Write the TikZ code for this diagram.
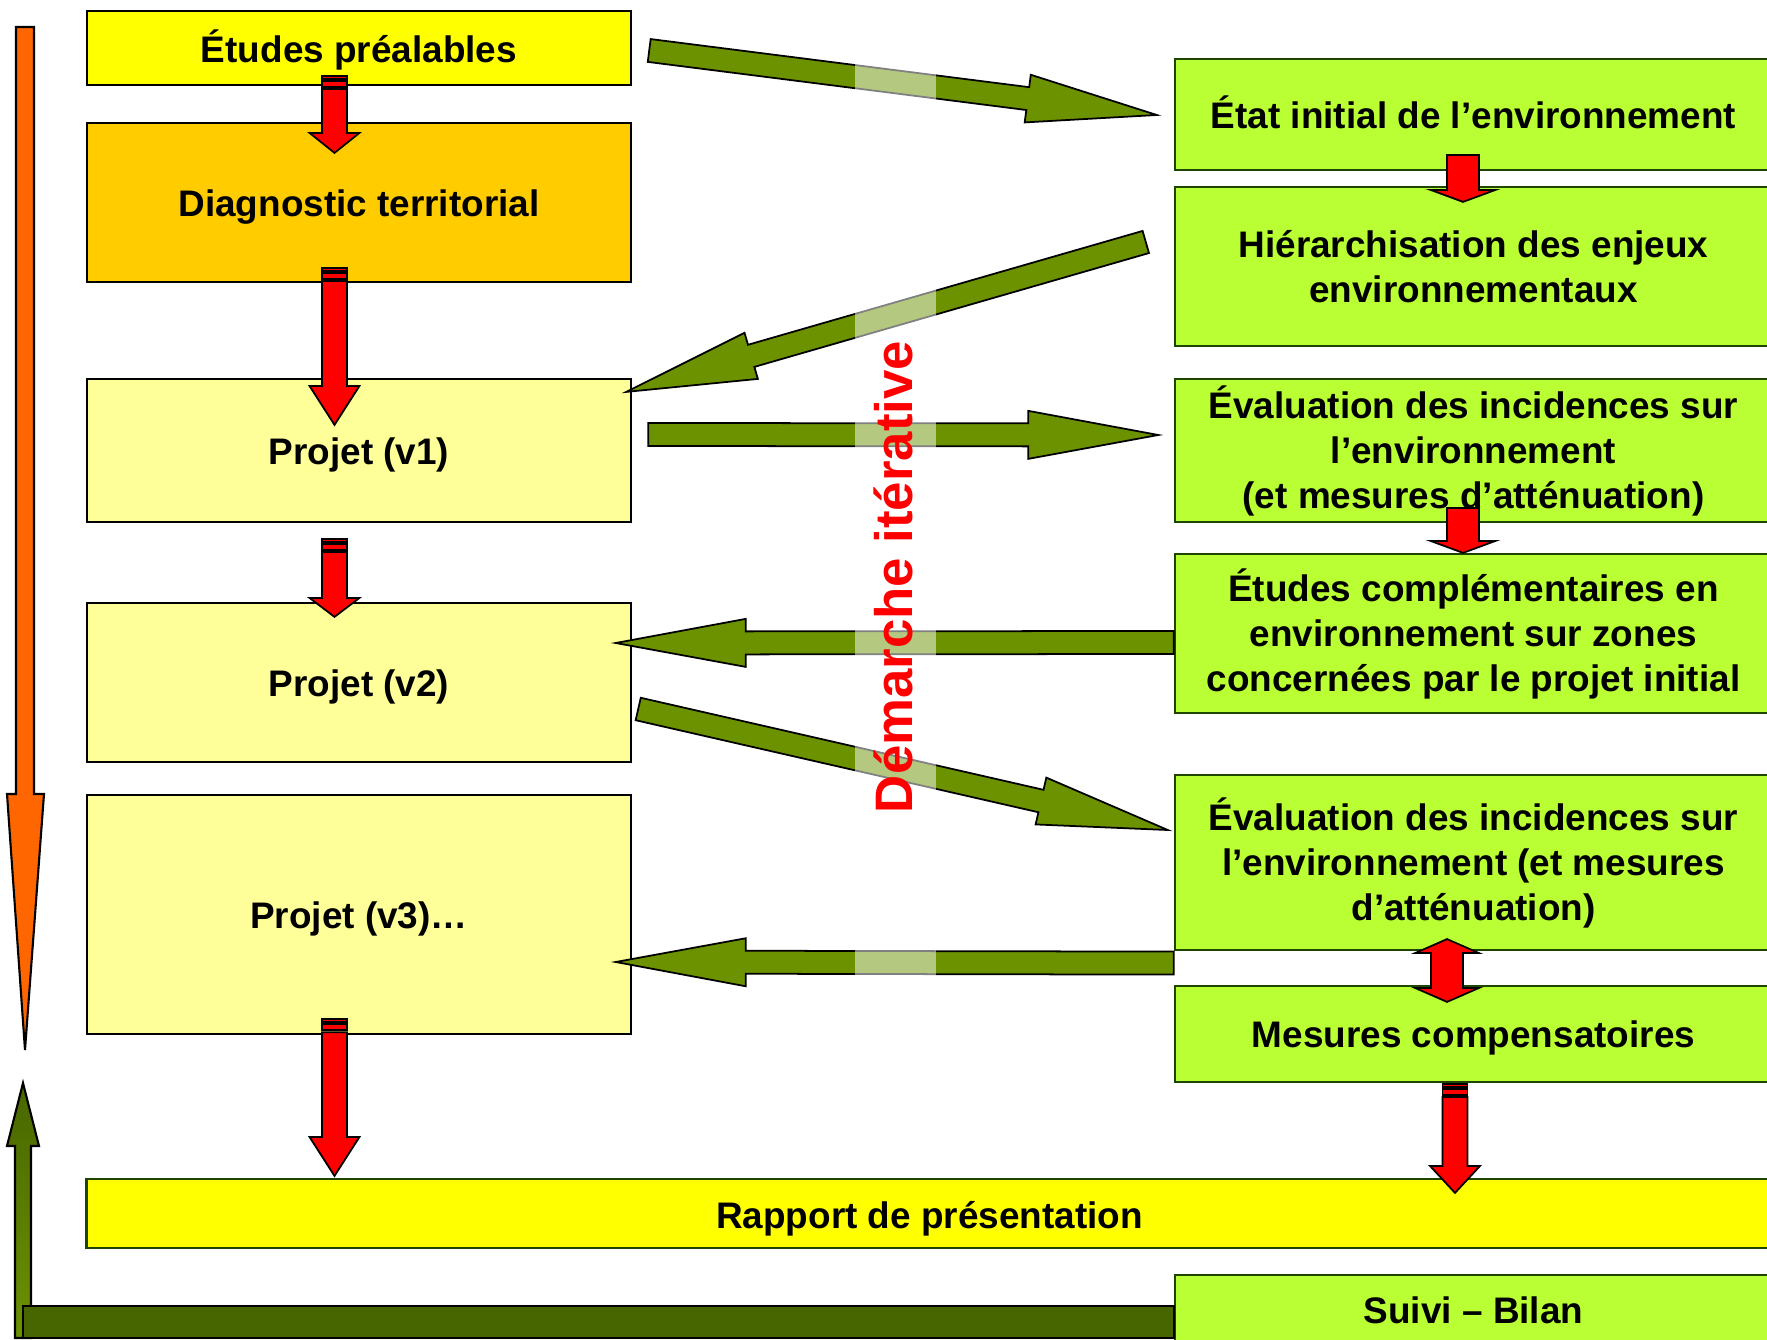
\documentclass[tikz,border=0pt]{standalone}
\usepackage{fontspec}
\setmainfont{Liberation Sans}
\usetikzlibrary{calc}

\definecolor{jaune}{RGB}{255,255,0}
\definecolor{jauneorange}{RGB}{255,204,0}
\definecolor{jaunepale}{RGB}{255,255,153}
\definecolor{vertclair}{RGB}{185,255,51}
\definecolor{vertolive}{RGB}{108,146,0}
\definecolor{vertfonce}{RGB}{72,102,0}
\definecolor{vertbord}{RGB}{30,70,0}
\definecolor{orangevif}{RGB}{255,102,0}

% fleche large verte entre deux points
\newcommand{\flecheverte}[2]{%
	\draw[vertbloc] let \p1=#1, \p2=#2, \n1={atan2(\y2-\y1,\x2-\x1)} in
		($(\p1)+(\n1+90:0.115cm)$) -- ($(\p2)+(\n1+180:1.3cm)+(\n1+90:0.115cm)$)
		-- ($(\p2)+(\n1+180:1.3cm)+(\n1+90:0.24cm)$) -- (\p2)
		-- ($(\p2)+(\n1+180:1.3cm)+(\n1-90:0.24cm)$) -- ($(\p2)+(\n1+180:1.3cm)+(\n1-90:0.115cm)$)
		-- ($(\p1)+(\n1-90:0.115cm)$) -- cycle;}

% fleche rouge verticale avec rayures
\newcommand{\flecherouge}[3]{%
	\draw[rougebloc] let \p1=#1 in ($(\p1)+(-12.5,0)$) rectangle ($(\p1)+(12.5,3)$);
	\draw[rougebloc] let \p1=#1 in ($(\p1)+(-12.5,5)$) rectangle ($(\p1)+(12.5,11)$);
	\draw[rougebloc] let \p1=#1, \p2=#2 in
		($(\p1)+(-12.5,13)$) -- ($(\p2)+(-12.5,-#3)$) -- ($(\p2)+(-25,-#3)$) -- (\p2)
		-- ($(\p2)+(25,-#3)$) -- ($(\p2)+(12.5,-#3)$) -- ($(\p1)+(12.5,13)$) -- cycle;}

% fleche rouge courte et large
\newcommand{\flechecourte}[2]{%
	\draw[rougebloc] let \p1=#1, \p2=#2 in
		($(\p1)+(-16,0)$) -- ($(\p2)+(-16,-12)$) -- ($(\p2)+(-32.5,-12)$) -- (\p2)
		-- ($(\p2)+(32.5,-12)$) -- ($(\p2)+(16,-12)$) -- ($(\p1)+(16,0)$) -- cycle;}

% fleche rouge double
\newcommand{\flechedouble}[2]{%
	\draw[rougebloc] let \p1=#1, \p2=#2 in
		(\p1) -- ($(\p1)+(32,14)$) -- ($(\p1)+(16,14)$) -- ($(\p2)+(16,-14)$) -- ($(\p2)+(32,-14)$)
		-- (\p2) -- ($(\p2)+(-32,-14)$) -- ($(\p2)+(-16,-14)$) -- ($(\p1)+(-16,14)$) -- ($(\p1)+(-32,14)$) -- cycle;}

\begin{document}
\begin{tikzpicture}[x=0.01cm, y=-0.01cm,
	gauche/.style={draw=black, line width=0.6pt, minimum width=5.44cm, inner sep=0pt, text height=10.2pt, text depth=2.2pt, align=center, font=\bfseries\fontsize{10.5}{12.8}\selectfont},
	droite/.style={draw=vertbord, fill=vertclair, line width=0.6pt, minimum width=5.97cm, inner sep=0pt, align=center, font=\bfseries\fontsize{10.5}{12.8}\selectfont},
	vertbloc/.style={draw=black, fill=vertolive, line width=0.5pt, line join=miter},
	rougebloc/.style={draw=black, fill=red, line width=0.5pt, line join=miter}]

	\useasboundingbox (0,0) rectangle (1767,1340);

	\draw[draw=black, fill=orangevif, line width=0.6pt] (16,27) -- (16,794) -- (7,794) -- (25,1050) -- (44,794) -- (34,794) -- (34,27) -- cycle;

	\node[gauche, fill=jaune, minimum height=0.74cm] (etudes) at (359,48) {Études préalables};
	\node[gauche, fill=jauneorange, minimum height=1.59cm] (diag) at (359,202.5) {Diagnostic territorial};
	\node[gauche, fill=jaunepale, minimum height=1.43cm] (v1) at (359,450.5) {Projet (v1)};
	\node[gauche, fill=jaunepale, minimum height=1.59cm] (v2) at (359,682.5) {Projet (v2)};
	\node[gauche, fill=jaunepale, minimum height=2.39cm] (v3) at (359,914.5) {Projet (v3)…};
	\node[gauche, draw=vertbord, fill=jaune, minimum width=16.85cm, minimum height=0.69cm, text height=11pt] (rapport) at (929.5,1213.5) {Rapport de présentation};

	\node[droite, minimum height=1.11cm, text height=8.2pt, text depth=0pt] (etat) at (1473.5,114.5) {État initial de l’environnement};
	\node[droite, minimum height=1.59cm] (hier) at (1473.5,266.5) {Hiérarchisation des enjeux\\environnementaux};
	\node[droite, minimum height=1.43cm] (eval1) at (1473.5,450.5) {Évaluation des incidences sur\\l’environnement\\(et mesures d’atténuation)};
	\node[droite, minimum height=1.59cm] (compl) at (1473.5,633.5) {Études complémentaires en\\environnement sur zones\\concernées par le projet initial};
	\node[droite, minimum height=1.75cm] (eval2) at (1473.5,862.5) {Évaluation des incidences sur\\l’environnement (et mesures\\d’atténuation)};
	\node[droite, minimum height=0.96cm, text height=9.6pt, text depth=2.2pt] (mesures) at (1473.5,1034) {Mesures compensatoires};
	\node[droite, minimum height=0.70cm] (suivi) at (1473.5,1310) {Suivi – Bilan};

	\draw[draw=black, line width=0.6pt, top color=vertfonce, bottom color=vertolive] (15,1338) -- (15,1146) -- (7,1146) -- (23,1083) -- (39,1146) -- (31,1146) -- (31,1338) -- cycle;
	\draw[draw=black, fill=vertfonce, line width=0.6pt] ($(suivi.west)+(0,-4)$) rectangle (23,1338);

	\flecheverte{($(etudes.east)+(17,2.5)$)}{($(etat.west)+(-17,0.5)$)}
	\flecheverte{($(hier.west)+(-28,-24.5)$)}{($(v1.north east)+(-6,14)$)}
	\flecheverte{($(v1.east)+(16,-16)$)}{($(eval1.west)+(-15.5,-15.5)$)}
	\flecheverte{($(compl.west)+(0,9)$)}{($(v2.east)+(-16.5,-39.5)$)}
	\flecheverte{($(v2.east)+(6,26.5)$)}{($(eval2.west)+(-6,-32.5)$)}
	\flecheverte{($(eval2.south west)+(0,12)$)}{($(v3.east)+(-16.5,47.5)$)}

	\fill[white, opacity=0.5] (855,40) rectangle (936,990);

	\flecherouge{($(etudes.south)+(-24.5,-10)$)}{($(diag.north)+(-24.5,31)$)}{20}
	\flecherouge{($(diag.south)+(-24.5,-15)$)}{($(v1.north)+(-24.5,47)$)}{39}
	\flecherouge{($(v1.south)+(-24.5,16)$)}{($(v2.north)+(-24.5,15)$)}{19}
	\flecherouge{($(v3.south)+(-24.5,-16)$)}{($(v3.south |- rapport.north)+(-24.5,-2)$)}{39}
	\flecherouge{($(mesures.south)+(-18.5,1)$)}{($(mesures.south |- rapport.north)+(-18.5,15)$)}{27}

	\flechecourte{($(etat.south)+(-10.5,-16)$)}{($(hier.north)+(-10.5,16)$)}
	\flechecourte{($(eval1.south)+(-10.5,-15)$)}{($(compl.north)+(-10.5,0)$)}
	\flechedouble{($(eval2.south)+(-26.5,-12)$)}{($(mesures.north)+(-26.5,17)$)}

	\node[rotate=90, text=red, font=\bfseries\fontsize{15}{18}\selectfont] (demarche) at (893,577) {Démarche itérative};

\end{tikzpicture}
\end{document}
